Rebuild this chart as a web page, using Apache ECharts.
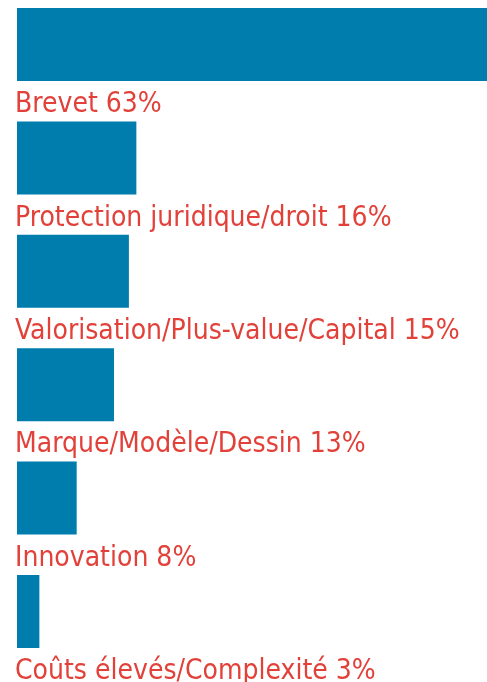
<!DOCTYPE html>
<html>
<head>
<meta charset="utf-8">
<script src="https://cdn.jsdelivr.net/npm/echarts@6/dist/echarts.min.js"></script>
<style>
	html, body { margin: 0; padding: 0; background: #fff; }
	#chart { width: 487px; height: 682px; }
</style>
</head>
<body>
<div id="chart"></div>
<script>
	// categories and shares (%)
	const categories = [
		'Brevet',
		'Protection juridique/droit',
		'Valorisation/Plus-value/Capital',
		'Marque/Modèle/Dessin',
		'Innovation',
		'Coûts élevés/Complexité'
	]
	const values = [63, 16, 15, 13, 8, 3]

	const chart = echarts.init(document.getElementById('chart'))

	const option = {
		animation: false,
		grid: {
			left: 17,
			right: 0,
			top: 44.5,
			height: 567
		},
		xAxis: {
			type: 'value',
			min: 0,
			max: 63,
			show: false
		},
		yAxis: {
			type: 'category',
			inverse: true,
			boundaryGap: false,
			data: categories,
			show: false
		},
		series: [
			{
				type: 'bar',
				data: values,
				barWidth: 73,
				itemStyle: {
					color: '#007dad'
				},
				label: {
					show: true,
					position: [-2, 97],
					align: 'left',
					verticalAlign: 'middle',
					color: '#e2413a',
					fontFamily: 'DejaVu Sans Condensed',
					fontSize: 28,
					formatter: (p) => p.name + ' ' + p.value + '%'
				}
			}
		]
	}

	chart.setOption(option)
</script>
</body>
</html>
